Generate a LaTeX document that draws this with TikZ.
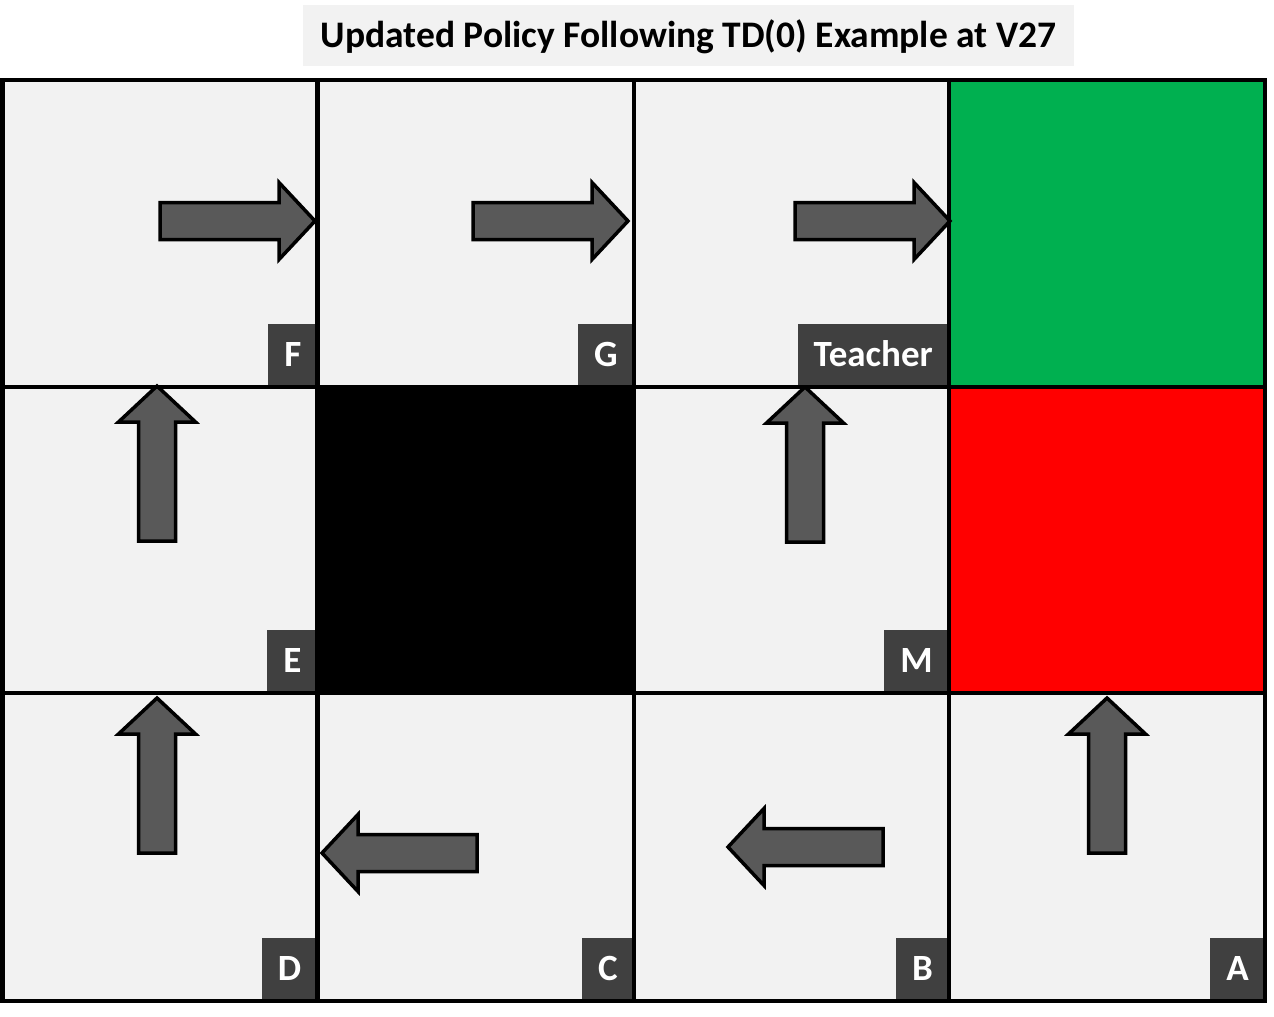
\documentclass[tikz,border=0pt]{standalone}
\usepackage{fontspec}
\setmainfont{Carlito}
\definecolor{cellgray}{HTML}{F2F2F2}
\definecolor{labelgray}{HTML}{404040}
\definecolor{arrowgray}{HTML}{595959}
\definecolor{goalgreen}{HTML}{00B050}
\definecolor{trapred}{HTML}{FF0000}
\begin{document}
\begin{tikzpicture}[x=1pt,y=-1pt,
  gridline/.style={line width=4.5pt, draw=black},
  cornerlabel/.style={fill=labelgray, text=white,
    font=\bfseries\fontsize{37}{37}\selectfont,
    inner xsep=16pt, inner ysep=0pt, text height=23.3pt, text depth=0pt,
    minimum height=63pt, anchor=south east},
  policyarrow/.style={fill=arrowgray, draw=black, line width=3.5pt, line join=miter},
  pics/policy/.style={code={
    \path[policyarrow] (0,-18.5) -- (119,-18.5) -- (119,-38.5) -- (155,0)
      -- (119,38.5) -- (119,18.5) -- (0,18.5) -- cycle;}}
]
\useasboundingbox (0,0) rectangle (1274,1017);

% title
\node[fill=cellgray, minimum width=771pt, minimum height=61pt, inner sep=0pt,
      text height=23.6pt, text depth=0pt,
      font=\bfseries\fontsize{37.5}{37.5}\selectfont] (title) at (688.5,35.5)
      {Updated Policy Following TD(0) Example at V27};

% cells
\fill[cellgray] (2.5,80) rectangle (1265,1001);
\fill[goalgreen] (949,80) rectangle (1265,387);
\fill[trapred] (949,387) rectangle (1265,693);
\fill[black] (317.5,387) rectangle (634,693);

% arrows (placed at tail centre)
\pic (aF) at (160,221) {policy};
\pic (aG) at (473,221) {policy};
\pic (aT) at (795,221) {policy};
\pic[rotate=90] (aE) at (157,541) {policy};
\pic[rotate=90] (aM) at (805,542) {policy};
\pic[rotate=90] (aD) at (157,853) {policy};
\pic[rotate=90] (aA) at (1107,853) {policy};
\pic[rotate=180] (aC) at (477,853) {policy};
\pic[rotate=180] (aB) at (883,847) {policy};

% labels
\node[cornerlabel] (lF) at (317.5,387) {F};
\node[cornerlabel] (lG) at (634,387) {G};
\node[cornerlabel] (lT) at (949,387) {Teacher};
\node[cornerlabel] (lE) at (317.5,693) {E};
\node[cornerlabel] (lM) at (949,693) {M};
\node[cornerlabel] (lD) at (317.5,1001) {D};
\node[cornerlabel] (lC) at (634,1001) {C};
\node[cornerlabel] (lB) at (949,1001) {B};
\node[cornerlabel] (lA) at (1265,1001) {A};

% grid lines
\draw[gridline] (2.5,80) rectangle (1265,1001);
\draw[gridline] (317.5,80) -- (317.5,1001);
\draw[gridline] (634,80) -- (634,1001);
\draw[gridline] (949,80) -- (949,1001);
\draw[gridline] (2.5,387) -- (1265,387);
\draw[gridline] (2.5,693) -- (1265,693);
\end{tikzpicture}
\end{document}
